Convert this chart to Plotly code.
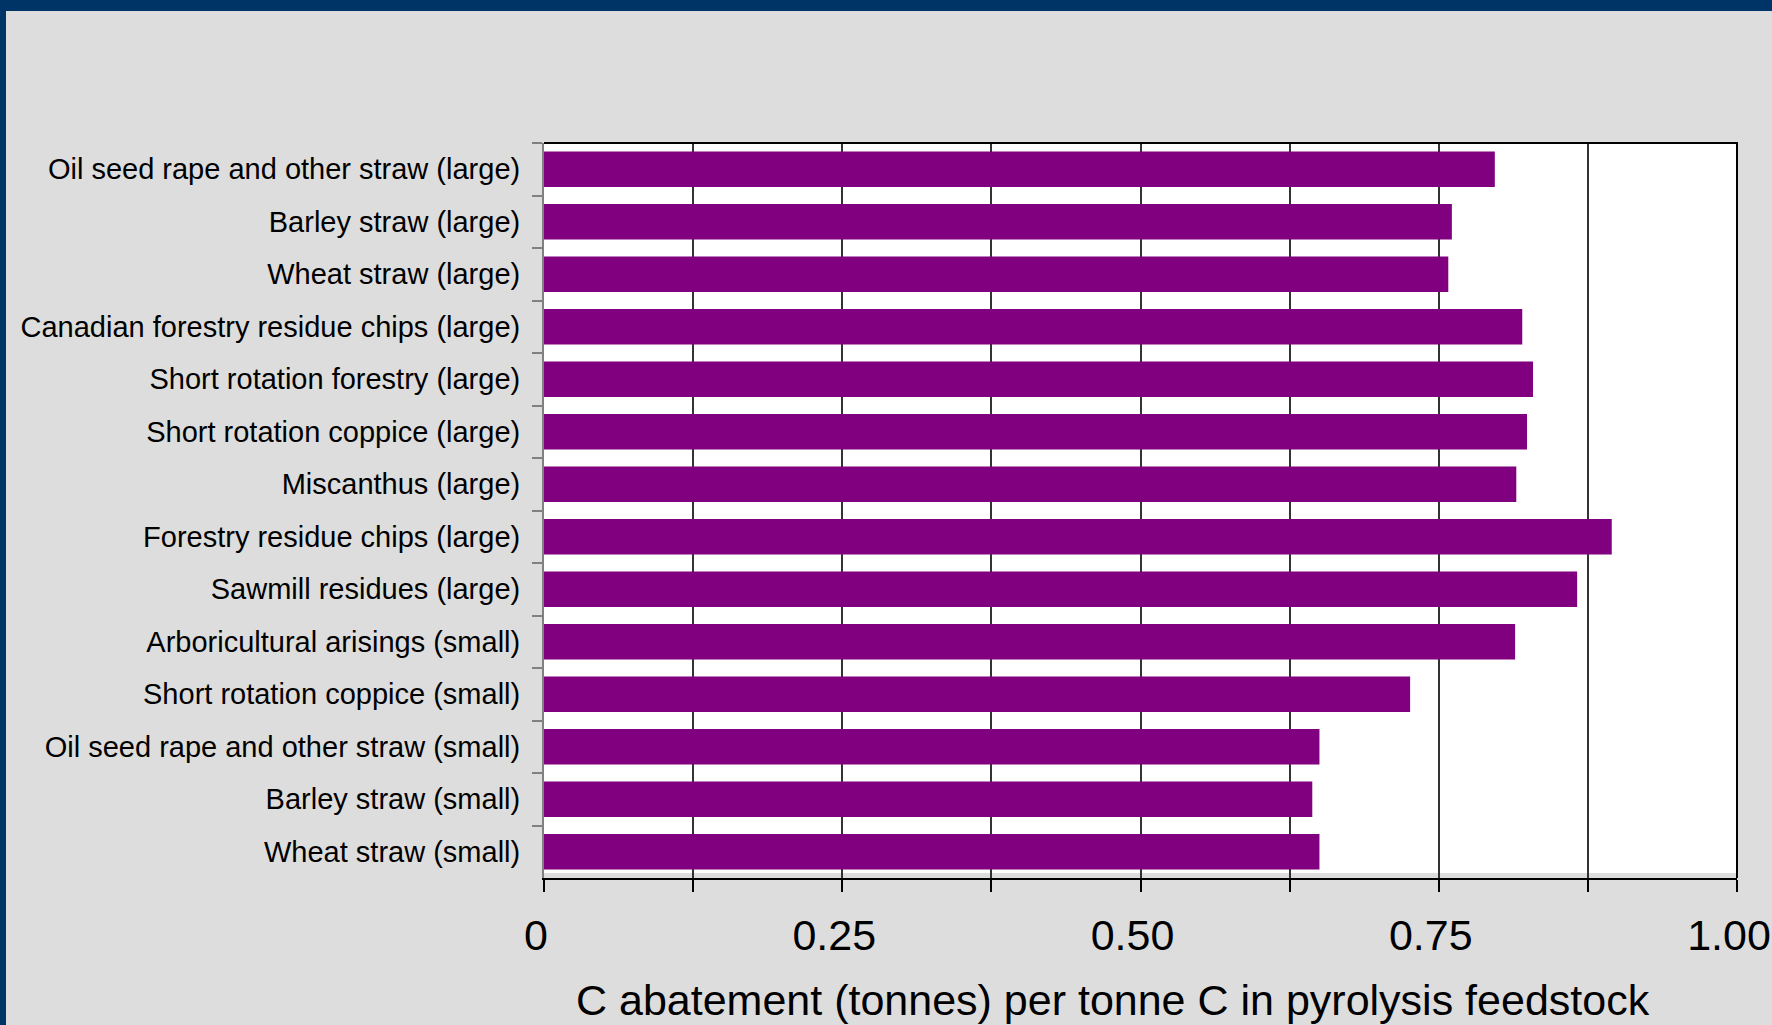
import plotly.graph_objects as go

categories = [
    "Oil seed rape and other straw (large)",
    "Barley straw (large)",
    "Wheat straw (large)",
    "Canadian forestry residue chips (large)",
    "Short rotation forestry (large)",
    "Short rotation coppice (large)",
    "Miscanthus (large)",
    "Forestry residue chips (large)",
    "Sawmill residues (large)",
    "Arboricultural arisings (small)",
    "Short rotation coppice (small)",
    "Oil seed rape and other straw (small)",
    "Barley straw (small)",
    "Wheat straw (small)",
]
abatement = [0.797, 0.761, 0.758, 0.820, 0.829, 0.824, 0.815,
             0.895, 0.866, 0.814, 0.726, 0.650, 0.644, 0.650]

x_tick_vals = [0, 0.125, 0.25, 0.375, 0.5, 0.625, 0.75, 0.875, 1.0]
x_tick_text = ["0", "", "0.25", "", "0.50", "", "0.75", "", "1.00"]
x_title = "C abatement (tonnes) per tonne C in pyrolysis feedstock"

W, H = 1772, 1025
ML, MR, MT, MB = 544, 35, 143, 147
PW, PH = W - ML - MR, H - MT - MB

def px_x(p):
    return (p - ML) / PW

def px_y(p):
    return (H - MB - p) / PH

FONT = "Liberation Sans, Arial, sans-serif"

fig = go.Figure(go.Bar(
    y=categories, x=abatement, orientation="h",
    marker=dict(color="#800080", line=dict(width=0)),
))

shapes = [
    dict(type="rect", xref="paper", yref="paper", x0=0, x1=1,
         y0=px_y(873), y1=1, fillcolor="white", line=dict(width=0), layer="below"),
    dict(type="rect", xref="paper", yref="paper", x0=px_x(0), x1=px_x(W),
         y0=px_y(11), y1=px_y(0), fillcolor="#003366", line=dict(width=0), layer="below"),
    dict(type="rect", xref="paper", yref="paper", x0=px_x(0), x1=px_x(6),
         y0=px_y(H), y1=px_y(0), fillcolor="#003366", line=dict(width=0), layer="below"),
    dict(type="path", xref="paper", yref="paper",
         path="M 0,1 L 1,1 L 1,0", line=dict(color="#000000", width=2)),
]

fig.update_layout(
    width=W, height=H,
    margin=dict(l=ML, r=MR, t=MT, b=MB, pad=0),
    paper_bgcolor="#DDDDDD",
    plot_bgcolor="#DDDDDD",
    bargap=0.32,
    showlegend=False,
    font=dict(family=FONT, color="#000000"),
    shapes=shapes,
    annotations=[dict(
        text=x_title, xref="paper", yref="paper",
        x=px_x(1113), y=px_y(1000), xanchor="center", yanchor="middle",
        showarrow=False, font=dict(size=43, family=FONT, color="#000000"),
    )],
)

fig.update_xaxes(
    range=[0, 1], tickmode="array", tickvals=x_tick_vals, ticktext=x_tick_text,
    showgrid=True, gridcolor="#333333", gridwidth=1.5,
    showline=True, linecolor="#000000", linewidth=2,
    ticks="outside", ticklen=12, tickcolor="#000000", tickwidth=1.5,
    tickfont=dict(size=43, family=FONT, color="#000000"),
    ticklabelstandoff=6, ticklabelshift=-8, ticklabeloverflow="allow",
    zeroline=False, automargin=False, fixedrange=True,
)
fig.update_yaxes(
    autorange="reversed", type="category",
    showgrid=False, zeroline=False,
    showline=True, linecolor="#808080", linewidth=2,
    ticks="outside", ticklen=10, tickcolor="#808080", tickwidth=1.5,
    tickson="boundaries",
    tickfont=dict(size=29, family=FONT, color="#000000"),
    ticklabelstandoff=16,
    automargin=False, fixedrange=True,
)

fig.write_html("out.html")
